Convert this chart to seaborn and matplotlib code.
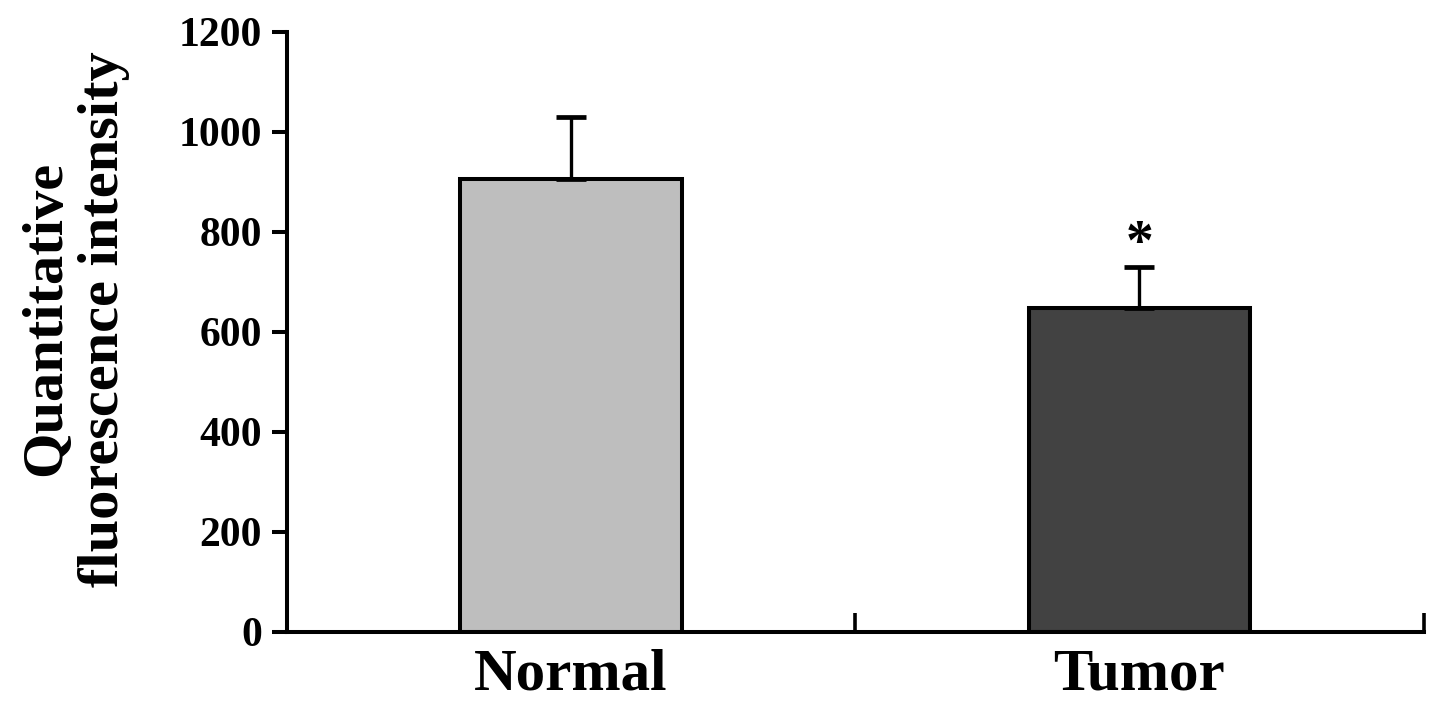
import matplotlib
matplotlib.use("Agg")
import matplotlib.pyplot as plt
import seaborn as sns
import numpy as np

# datos
grupos = ["Normal", "Tumor"]
media = [905, 648]
error = [125, 82]
colores = ["#bebebe", "#424242"]
signif = ["", "*"]

sns.set_style("ticks")
plt.rcParams['font.family'] = ['Liberation Serif', 'DejaVu Serif']
plt.rcParams['font.weight'] = 'bold'
for k in ['text.color', 'axes.labelcolor', 'xtick.color', 'ytick.color',
          'axes.edgecolor']:
    plt.rcParams[k] = 'black'

fig = plt.figure(figsize=(14.41, 7.04), dpi=100)
ax = fig.add_axes([0.199, 0.1023, 0.789, 0.8523])

sns.barplot(x=grupos, y=media, hue=grupos, palette=colores, width=0.39,
            edgecolor="black", linewidth=2.9, errorbar=None, legend=False,
            saturation=1, ax=ax)

x = np.arange(len(grupos))
ax.errorbar(x, media, yerr=[np.zeros(len(error)), error], fmt="none",
            ecolor="black", elinewidth=2.4, capsize=10.5, capthick=3.4,
            zorder=1)

# asterisco de significancia
for i, s in enumerate(signif):
    if s:
        ax.text(x[i], media[i] + error[i] + 16, s, ha="center", va="baseline",
                fontsize=40, fontweight="bold")

ax.set_xlim(-0.5, 1.5)
ax.set_ylim(0, 1200)
ax.set_yticks(np.arange(0, 1201, 200))
ax.tick_params(axis="y", direction="out", length=11, width=2.9, pad=7,
               labelsize=30)
ax.tick_params(axis="x", which="major", length=0, pad=12, labelsize=42.5)
ax.set_xticks([0.5, 1.5], minor=True)
ax.tick_params(axis="x", which="minor", direction="in", length=14, width=2.6)
for lab in ax.get_xticklabels() + ax.get_yticklabels():
    lab.set_fontweight("bold")

for s in ["top", "right"]:
    ax.spines[s].set_visible(False)
for s in ["left", "bottom"]:
    ax.spines[s].set_linewidth(2.9)

ax.set_xlabel("")
ax.set_ylabel("Quantitative\nfluorescence intensity", fontsize=42,
              fontweight="bold", linespacing=1.15)
ax.yaxis.set_label_coords(-0.138, 0.522)

fig.savefig("out.png", dpi=100)
